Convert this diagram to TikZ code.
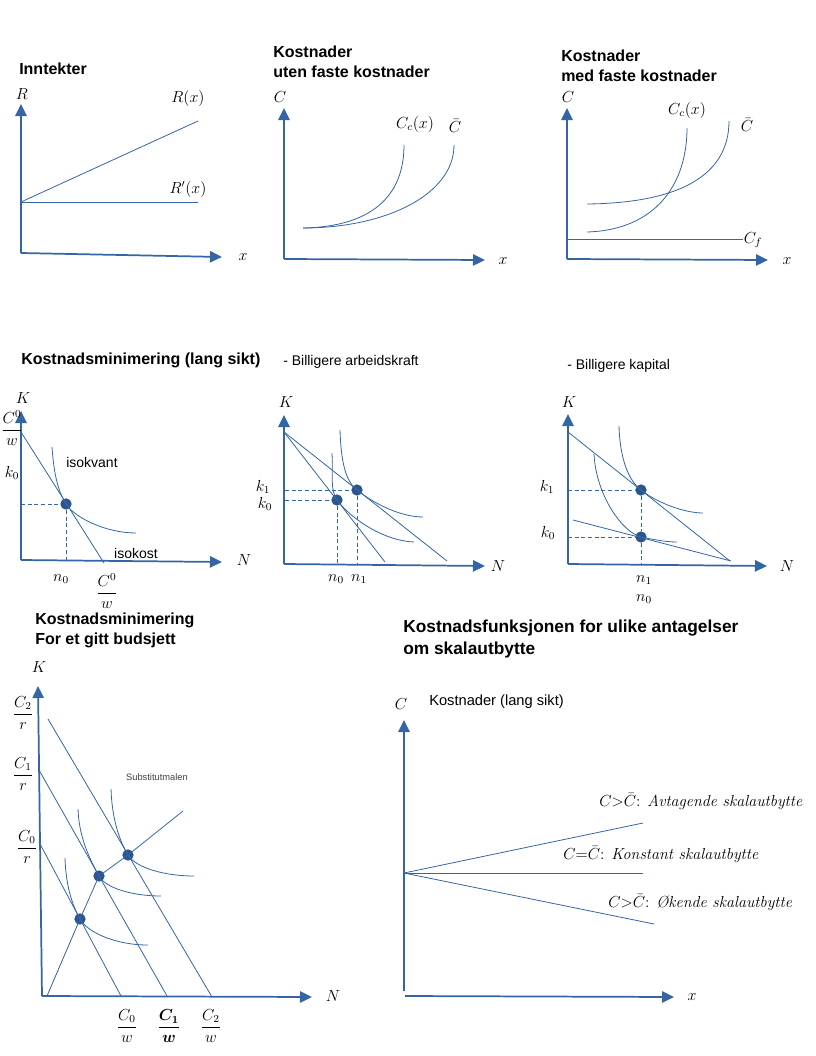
\documentclass[tikz,border=0pt]{standalone}
\usepackage{amsmath}
\usepackage{fontspec}
\setsansfont{Liberation Sans}
\usepackage{tikz}
\usetikzlibrary{arrows.meta}
\definecolor{plotblue}{HTML}{3465A4}
\tikzset{
    axis_style/.style={
        draw=plotblue,        % 坐标轴颜色
        line width=1.3pt,     % 坐标轴线宽
        -{Triangle[length=9pt,width=8.5pt]} % 实心三角箭头
    },
    curve_style/.style={
        draw=plotblue,        % 曲线颜色
        line width=0.6pt      % 细线
    },
    dash_style/.style={
        draw=plotblue,
        line width=0.7pt,
        dash pattern=on 3pt off 2pt % 虚线
    },
    dot_style/.style={
        circle,               % 圆点
        fill=plotblue!85!black,
        inner sep=0pt,
        minimum size=8.5pt
    },
    title_style/.style={
        anchor=west,
        align=left,
        inner sep=0pt,
        font=\sffamily\bfseries\fontsize{12}{15}\selectfont
    },
    text_style/.style={
        inner sep=0pt,
        font=\sffamily\fontsize{10.5}{12}\selectfont
    },
    math_style/.style={
        inner sep=1pt,
        font=\fontsize{12}{14}\selectfont
    },
    case_style/.style={
        anchor=west,
        inner sep=0pt,
        font=\fontsize{12}{14}\selectfont
    }
}

\begin{document}
\begin{tikzpicture}[x=0.75pt, y=-0.75pt]
\useasboundingbox (0,0) rectangle (816,1056);

% 1. 收入
\node[title_style] (t1) at (19,69) {Inntekter};
\coordinate (o1) at (21,253);
\coordinate (y1) at (21,104);
\coordinate (x1) at (222,257);
\coordinate (r0) at (21,202);
\coordinate (r1) at (198,121);
\coordinate (r2) at (198,202);
\draw[axis_style] (o1) -- (y1);
\draw[axis_style] (o1) -- (x1);
\draw[curve_style] (r0) -- (r1);
\draw[curve_style] (r0) -- (r2);
\node[math_style] (lR1) at (22,94) {$R$};
\node[math_style] (lx1) at (243,257) {$x$};
\node[math_style] (lRx) at (188,99) {$R(x)$};
\node[math_style] (lRd) at (188,189) {$R'(x)$};

% 2. 无固定成本
\node[title_style] (t2) at (273,62) {Kostnader\\uten faste kostnader};
\coordinate (o2) at (284,259);
\coordinate (y2) at (284,108);
\coordinate (x2) at (485,260);
\coordinate (c2s) at (303,228);
\coordinate (c2a) at (404,145);
\coordinate (c2b) at (454,145);
\draw[axis_style] (o2) -- (y2);
\draw[axis_style] (o2) -- (x2);
\draw[curve_style] (c2s) .. controls (360,227) and (404,205) .. (c2a);
\draw[curve_style] (c2s) .. controls (385,228) and (454,195) .. (c2b);
\node[math_style] (lC2) at (280,97) {$C$};
\node[math_style] (lx2) at (503,261) {$x$};
\node[math_style] (lCc2) at (415,124) {$C_c(x)$};
\node[math_style] (lCb2) at (455,126) {$\bar{C}$};

% 3. 有固定成本
\node[title_style] (t3) at (561,66) {Kostnader\\med faste kostnader};
\coordinate (o3) at (567,259);
\coordinate (y3) at (567,108);
\coordinate (x3) at (768,260);
\coordinate (f3a) at (567,239);
\coordinate (f3b) at (743,239);
\coordinate (c3s) at (587,232);
\coordinate (c3a) at (687,128);
\coordinate (b3s) at (587,204);
\coordinate (b3a) at (729,121);
\draw[axis_style] (o3) -- (y3);
\draw[axis_style] (o3) -- (x3);
\draw[curve_style] (f3a) -- (f3b);
\draw[curve_style] (c3s) .. controls (655,230) and (687,185) .. (c3a);
\draw[curve_style] (b3s) .. controls (680,203) and (729,175) .. (b3a);
\node[math_style] (lC3) at (568,97) {$C$};
\node[math_style] (lx3) at (787,261) {$x$};
\node[math_style] (lCf3) at (753,240) {$C_f$};
\node[math_style] (lCc3) at (687,110) {$C_c(x)$};
\node[math_style] (lCb3) at (747,125) {$\bar{C}$};

% 4. 成本最小化 (长期)
\node[title_style] (t4) at (21,360) {Kostnadsminimering (lang sikt)};
\coordinate (o4) at (21,560);
\coordinate (y4) at (21,411);
\coordinate (x4) at (222,562);
\coordinate (b4a) at (21,432);
\coordinate (b4b) at (104,563);
\coordinate (q4s) at (52,447);
\coordinate (q4e) at (136,533);
\coordinate (k4) at (21,504);
\coordinate (n4) at (66,560);
\node[dot_style] (p4) at (66,504) {};
\draw[axis_style] (o4) -- (y4);
\draw[axis_style] (o4) -- (x4);
\draw[curve_style] (b4a) -- (b4b);
\draw[curve_style] (q4s) .. controls (54,475) and (58,491) .. (p4.center)
    .. controls (74,517) and (105,533) .. (q4e);
\draw[dash_style] (k4) -- (p4);
\draw[dash_style] (p4) -- (n4);
\node[math_style] (lK4) at (23,398) {$K$};
\node[math_style] (lN4) at (244,560) {$N$};
\node[math_style] (lCw4) at (12,428) {$\dfrac{C^0}{w}$};
\node[math_style] (lk4) at (12,473) {$k_0$};
\node[math_style] (ln4) at (61,579) {$n_0$};
\node[math_style] (lCx4) at (107,591) {$\dfrac{C^0}{w}$};
\node[text_style] (iq4) at (92,462) {isokvant};
\node[text_style] (ic4) at (136,553) {isokost};

% 5. 劳动力更便宜
\node[text_style, anchor=west] (t5) at (283,362) {- Billigere arbeidskraft};
\coordinate (o5) at (284,564);
\coordinate (y5) at (284,415);
\coordinate (x5) at (485,566);
\coordinate (a5) at (284,432);
\coordinate (e5a) at (385,562);
\coordinate (e5b) at (447,561);
\coordinate (q5s) at (332,453);
\coordinate (q5e) at (414,542);
\coordinate (u5s) at (340,430);
\coordinate (u5e) at (423,517);
\coordinate (k5a) at (285,500);
\coordinate (k5b) at (285,490);
\coordinate (n5a) at (337,564);
\coordinate (n5b) at (357,564);
\node[dot_style] (p5a) at (337,500) {};
\node[dot_style] (p5b) at (357,490) {};
\draw[axis_style] (o5) -- (y5);
\draw[axis_style] (o5) -- (x5);
\draw[curve_style] (a5) -- (e5a);
\draw[curve_style] (a5) -- (e5b);
\draw[curve_style] (q5s) .. controls (333,475) and (330,490) .. (p5a.center)
    .. controls (352,520) and (385,541) .. (q5e);
\draw[curve_style] (u5s) .. controls (341,460) and (345,481) .. (p5b.center)
    .. controls (373,503) and (400,517) .. (u5e);
\draw[dash_style] (k5a) -- (p5a);
\draw[dash_style] (k5b) -- (p5b);
\draw[dash_style] (p5a) -- (n5a);
\draw[dash_style] (p5b) -- (n5b);
\node[math_style] (lK5) at (286,402) {$K$};
\node[math_style] (lN5) at (498,566) {$N$};
\node[math_style] (lk5b) at (263,487) {$k_1$};
\node[math_style] (lk5a) at (265,504) {$k_0$};
\node[math_style] (ln5a) at (336,579) {$n_0$};
\node[math_style] (ln5b) at (359,579) {$n_1$};

% 6. 资本更便宜
\node[text_style, anchor=west] (t6) at (567,366) {- Billigere kapital};
\coordinate (o6) at (568,564);
\coordinate (y6) at (568,414);
\coordinate (x6) at (767,566);
\coordinate (a6) at (568,432);
\coordinate (e6) at (730,561);
\coordinate (s6) at (573,520);
\coordinate (f6) at (731,561);
\coordinate (u6s) at (619,426);
\coordinate (u6e) at (703,513);
\coordinate (q6s) at (594,454);
\coordinate (q6e) at (677,542);
\coordinate (k6b) at (568,490);
\coordinate (k6a) at (568,537);
\coordinate (n6) at (641,564);
\node[dot_style] (p6b) at (641,490) {};
\node[dot_style] (p6a) at (641,537) {};
\draw[axis_style] (o6) -- (y6);
\draw[axis_style] (o6) -- (x6);
\draw[curve_style] (a6) -- (e6);
\draw[curve_style] (s6) -- (f6);
\draw[curve_style] (u6s) .. controls (620,460) and (629,481) .. (p6b.center)
    .. controls (657,503) and (685,513) .. (u6e);
\draw[curve_style] (q6s) .. controls (596,495) and (622,532) .. (p6a.center)
    .. controls (651,539) and (665,542) .. (q6e);
\draw[dash_style] (k6b) -- (p6b);
\draw[dash_style] (k6a) -- (p6a);
\draw[dash_style] (p6b) -- (p6a);
\draw[dash_style] (p6a) -- (n6);
\node[math_style] (lK6) at (569,402) {$K$};
\node[math_style] (lN6) at (787,566) {$N$};
\node[math_style] (lk6b) at (547,487) {$k_1$};
\node[math_style] (lk6a) at (548,533) {$k_0$};
\node[math_style] (ln6b) at (644,580) {$n_1$};
\node[math_style] (ln6a) at (644,599) {$n_0$};

% 7. 给定预算
\node[title_style] (t7) at (35,630) {Kostnadsminimering\\For et gitt budsjett};
\coordinate (o7) at (42,996);
\coordinate (y7) at (38,686);
\coordinate (x7) at (312,997);
\coordinate (l0a) at (39,842);
\coordinate (l0b) at (121,996);
\coordinate (l1a) at (39,770);
\coordinate (l1b) at (167,996);
\coordinate (l2a) at (48,719);
\coordinate (l2b) at (212,997);
\coordinate (sp0) at (47,996);
\coordinate (sp1) at (183,811);
\node[dot_style] (d0) at (80,919) {};
\node[dot_style] (d1) at (99,876) {};
\node[dot_style] (d2) at (128,855) {};
\draw[axis_style] (o7) -- (y7);
\draw[axis_style] (o7) -- (x7);
\draw[curve_style] (l0a) -- (l0b);
\draw[curve_style] (l1a) -- (l1b);
\draw[curve_style] (l2a) -- (l2b);
\draw[curve_style] (sp0) -- (d0.center) -- (d1.center) -- (d2.center) -- (sp1);
\draw[curve_style] (65,858) .. controls (66,890) and (74,908) .. (d0.center)
    .. controls (87,932) and (115,945) .. (148,945);
\draw[curve_style] (78,809) .. controls (79,840) and (92,863) .. (d1.center)
    .. controls (106,889) and (135,896) .. (161,896);
\draw[curve_style] (111,789) .. controls (112,820) and (120,842) .. (d2.center)
    .. controls (136,868) and (165,876) .. (194,876);
\node[math_style] (lK7) at (39,667) {$K$};
\node[math_style] (lN7) at (333,996) {$N$};
\node[math_style] (lr2) at (23,713) {$\dfrac{C_2}{r}$};
\node[math_style] (lr1) at (23,774) {$\dfrac{C_1}{r}$};
\node[math_style] (lr0) at (27,847) {$\dfrac{C_0}{r}$};
\node[math_style] (lw0) at (127,1026) {$\dfrac{C_0}{w}$};
\node[math_style] (lw1) at (169,1026) {$\dfrac{\boldsymbol{C_1}}{\boldsymbol{w}}$};
\node[math_style] (lw2) at (211,1026) {$\dfrac{C_2}{w}$};
\node[font=\sffamily\fontsize{7}{8}\selectfont, text=black!75] (sub7) at (157,777) {Substitutmalen};

% 8. 规模报酬
\node[title_style, font=\sffamily\bfseries\fontsize{13}{16.5}\selectfont] (t8) at (403,639)
    {Kostnadsfunksjonen for ulike antagelser\\om skalautbytte};
\coordinate (o8) at (404,991);
\coordinate (y8) at (404,720);
\coordinate (o8x) at (405,996);
\coordinate (x8) at (674,997);
\coordinate (s8) at (404,873);
\coordinate (u8) at (643,823);
\coordinate (h8) at (643,873);
\coordinate (d8) at (654,924);
\draw[axis_style] (o8) -- (y8);
\draw[axis_style] (o8x) -- (x8);
\draw[curve_style] (s8) -- (u8);
\draw[curve_style] (s8) -- (h8);
\draw[curve_style] (s8) -- (d8);
\node[math_style] (lC8) at (401,704) {$C$};
\node[math_style] (lx8) at (692,997) {$x$};
\node[text_style, anchor=west, font=\sffamily\fontsize{11}{13}\selectfont] (kl8) at (429,702) {Kostnader (lang sikt)};
\node[case_style] (cu8) at (599,802) {$C{>}\bar{C}$: \textit{Avtagende skalautbytte}};
\node[case_style] (ch8) at (563,855) {$C{=}\bar{C}$: \textit{Konstant skalautbytte}};
\node[case_style] (cd8) at (608,903) {$C{>}\bar{C}$: \textit{Økende skalautbytte}};
\end{tikzpicture}
\end{document}
